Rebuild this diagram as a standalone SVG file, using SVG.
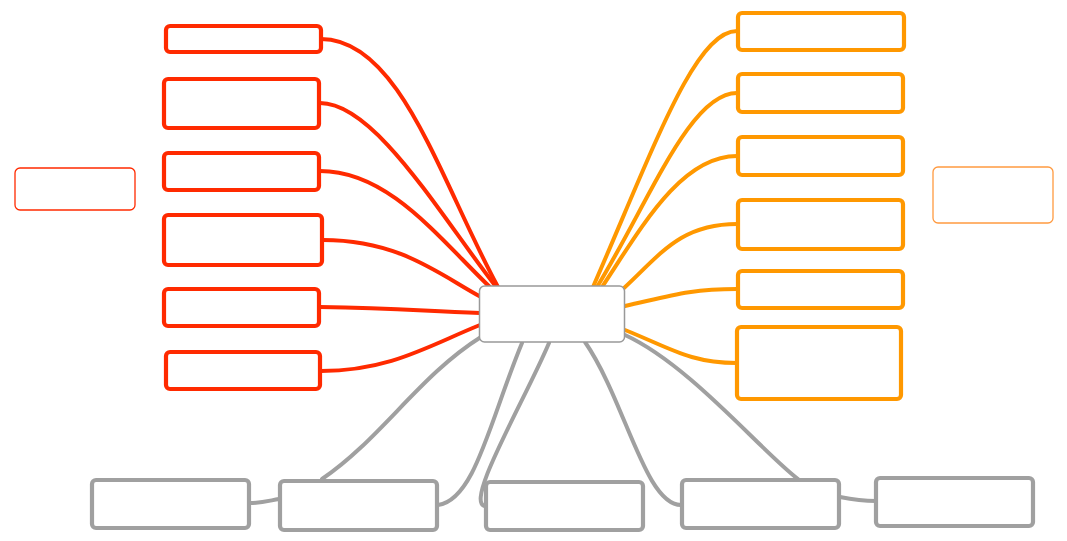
<svg xmlns="http://www.w3.org/2000/svg" width="1067" height="541" viewBox="0 0 1067 541">
<style>
.c{fill:none;stroke-width:4;stroke-linecap:round}
.cr{stroke:#ff2a00}.co{stroke:#ff9800}.cg{stroke:#a0a0a0}
.n{fill:#fff;stroke-width:4.2}
.nr{stroke:#ff2a00}.no{stroke:#ff9800}.ng{stroke:#a0a0a0}
.f{fill:#fff;stroke-width:1.3}
</style>
<rect width="1067" height="541" fill="#fff"/>
<g id="connectors">
<path class="c cr" d="M321,39 C400,39 440,180 498,287"/>
<path class="c cr" d="M320,103 C375,103 440,215 497,288"/>
<path class="c cr" d="M320,171 C390,171 440,240 494,291"/>
<path class="c cr" d="M323,240 C400,240 440,275 481,297"/>
<path class="c cr" d="M320,307 C400,308 420,311 480,313"/>
<path class="c cr" d="M321,371 C390,371 430,345 480,325"/>
<path class="c co" d="M737,31 C695,31 655,145 593,287"/>
<path class="c co" d="M737,93 C690,93 650,200 597,287"/>
<path class="c co" d="M737,156 C680,156 640,230 602,287"/>
<path class="c co" d="M737,224 C680,224 660,255 623,289"/>
<path class="c co" d="M737,289 C690,289 670,296 625,306"/>
<path class="c co" d="M737,363 C690,363 670,348 625,330"/>
<path class="c cg" d="M481,337 C420,375 380,440 322,479"/>
<path class="c cg" d="M250,503 C262,503 268,501 279,499"/>
<path class="c cg" d="M438,505 C475,500 490,420 522,343"/>
<path class="c cg" d="M549,343 C525,400 462,506 486,506"/>
<path class="c cg" d="M585,342 C625,400 645,505 681,505"/>
<path class="c cg" d="M625,335 C690,365 760,450 798,479"/>
<path class="c cg" d="M840,497 C855,500 862,501 876,501"/>
</g>
<g id="central"><rect x="479.5" y="286" width="145" height="56" rx="5" fill="#fff" stroke="#999" stroke-width="1.5"/></g>
<g id="red-float"><rect class="f" x="15" y="168" width="120" height="42" rx="5" stroke="#ff2a00"/></g>
<g id="red1"><rect class="n nr" x="166" y="26" width="155" height="26" rx="4"/></g>
<g id="red2"><rect class="n nr" x="164" y="79" width="155" height="49" rx="4"/></g>
<g id="red3"><rect class="n nr" x="164" y="153" width="155" height="37" rx="4"/></g>
<g id="red4"><rect class="n nr" x="164" y="215" width="158" height="50" rx="4"/></g>
<g id="red5"><rect class="n nr" x="164" y="289" width="155" height="37" rx="4"/></g>
<g id="red6"><rect class="n nr" x="166" y="352" width="154" height="37" rx="4"/></g>
<g id="orange-float"><rect class="f" x="933" y="167" width="120" height="56" rx="5" stroke="#ff9a40"/></g>
<g id="orange1"><rect class="n no" x="738" y="13" width="166" height="37" rx="4"/></g>
<g id="orange2"><rect class="n no" x="738" y="74" width="165" height="38" rx="4"/></g>
<g id="orange3"><rect class="n no" x="738" y="137" width="165" height="38" rx="4"/></g>
<g id="orange4"><rect class="n no" x="738" y="200" width="165" height="49" rx="4"/></g>
<g id="orange5"><rect class="n no" x="738" y="271" width="165" height="37" rx="4"/></g>
<g id="orange6"><rect class="n no" x="737" y="327" width="164" height="72" rx="4"/></g>
<g id="gray1"><rect class="n ng" x="92" y="480" width="157" height="48" rx="4"/></g>
<g id="gray2"><rect class="n ng" x="280" y="481" width="157" height="49" rx="4"/></g>
<g id="gray3"><rect class="n ng" x="486" y="482" width="157" height="48" rx="4"/></g>
<g id="gray4"><rect class="n ng" x="682" y="480" width="157" height="48" rx="4"/></g>
<g id="gray5"><rect class="n ng" x="876" y="478" width="157" height="48" rx="4"/></g>
</svg>
